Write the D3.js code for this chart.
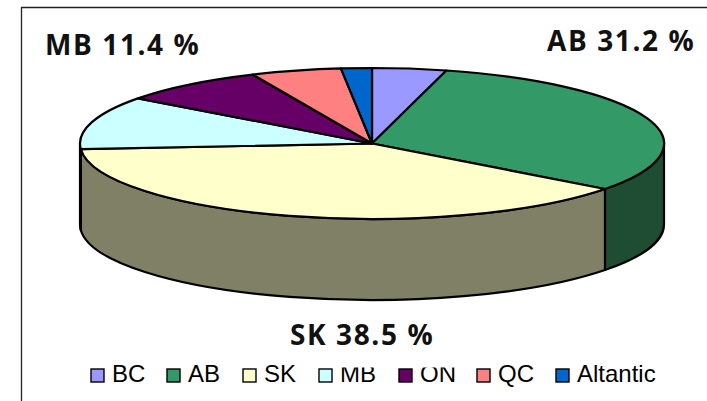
<!DOCTYPE html>
<html>
<head>
<meta charset="UTF-8">
<title>Pie</title>
<script src="https://cdn.jsdelivr.net/npm/d3@7"></script>
<style>
    html,body{margin:0;padding:0;background:#fff;overflow:hidden}
    svg{display:block}
    .label{font-family:"Open Sans";font-weight:700;font-size:28px;letter-spacing:1.6px;fill:#111}
    .legend{font-family:"Liberation Sans";font-size:24px;fill:#000}
</style>
</head>
<body>
<div id="root"></div>
<script>
    // values, percent of total
    const categories = ["BC","AB","SK","MB","ON","QC","Altantic"]
    const shares = [4.1,31.2,38.5,11.4,8.1,5.0,1.7]
    const topColors = ["#9999FF","#339966","#FFFFCC","#CCFFFF","#660066","#FF8080","#0066CC"]
    const wallColors = ["#4D4D80","#1E4D33","#808066","#668080","#330033","#804040","#003366"]
    const calloutNames = ["MB","AB","SK"]
    const calloutText = ["MB 11.4 %","AB 31.2 %","SK 38.5 %"]
    // these legend names have their tops cut off in the original
    const cutKeys = ["MB","ON"]

    let width=707,height=401,cx=372,cy=143.5,rx=292,ry=75.5,depth=81

    let svg = d3.select("#root").append("svg").attr("width",width).attr("height",height)

    // open frame, only the left and top sides are in the crop
    svg.append("path").attr("d","M21.5,401V7.5H707").attr("fill","none").attr("stroke","#222").attr("stroke-width",1.3)

    let pie = d3.pie().sort(null).value(d=>d)
    let slices = pie(shares)

    let px = a=>cx+rx*Math.sin(a)
    let py = a=>cy-ry*Math.cos(a)

    // front wall, only the part between 90 and 270 degrees shows
    function wallPath(s){
        let a0=Math.max(s.startAngle,Math.PI/2),a1=Math.min(s.endAngle,Math.PI*1.5)
        if(a1<=a0) return null
        return "M"+px(a0)+","+py(a0)
            +"A"+rx+","+ry+" 0 0 1 "+px(a1)+","+py(a1)
            +"v"+depth
            +"A"+rx+","+ry+" 0 0 0 "+px(a0)+","+(py(a0)+depth)
            +"Z"
    }

    svg.append("g").selectAll("path").data(slices).enter().append("path")
        .attr("d",d=>wallPath(d))
        .attr("fill",(d,i)=>wallColors[i])
        .attr("stroke","#000").attr("stroke-width",2.2).attr("stroke-linejoin","round")

    let arc = d3.arc().innerRadius(0).outerRadius(rx)
    svg.append("g").attr("transform","translate("+cx+","+cy+") scale(1,"+ry/rx+")")
        .selectAll("path").data(slices).enter().append("path")
        .attr("d",arc)
        .attr("fill",(d,i)=>topColors[i])
        .attr("stroke","#000").attr("stroke-width",2.2).attr("stroke-linejoin","round")
        .attr("vector-effect","non-scaling-stroke")

    let calloutX = d3.scaleOrdinal().domain(calloutNames).range([45,547,290])
    let calloutY = d3.scaleOrdinal().domain(calloutNames).range([55,51,345])
    svg.selectAll(".label").data(calloutNames).enter().append("text").attr("class","label")
        .attr("x",d=>calloutX(d)).attr("y",d=>calloutY(d))
        .text((d,i)=>calloutText[i])

    // legend
    svg.append("clipPath").attr("id","cut").append("rect").attr("x",0).attr("y",367.5).attr("width",width).attr("height",40)

    let legendX = d3.scaleOrdinal().domain(categories).range([91,167,243,319,399,477,556])
    let g = svg.selectAll(".key").data(categories).enter().append("g").attr("class","key")
    g.append("rect").attr("x",d=>legendX(d)).attr("y",369).attr("width",13).attr("height",13)
        .attr("fill",(d,i)=>topColors[i]).attr("stroke","#000").attr("stroke-width",1.4)
    g.append("text").attr("class","legend").attr("x",d=>legendX(d)+21).attr("y",382).text(d=>d)
        .attr("clip-path",d=>cutKeys.includes(d)?"url(#cut)":null)
</script>
</body>
</html>
